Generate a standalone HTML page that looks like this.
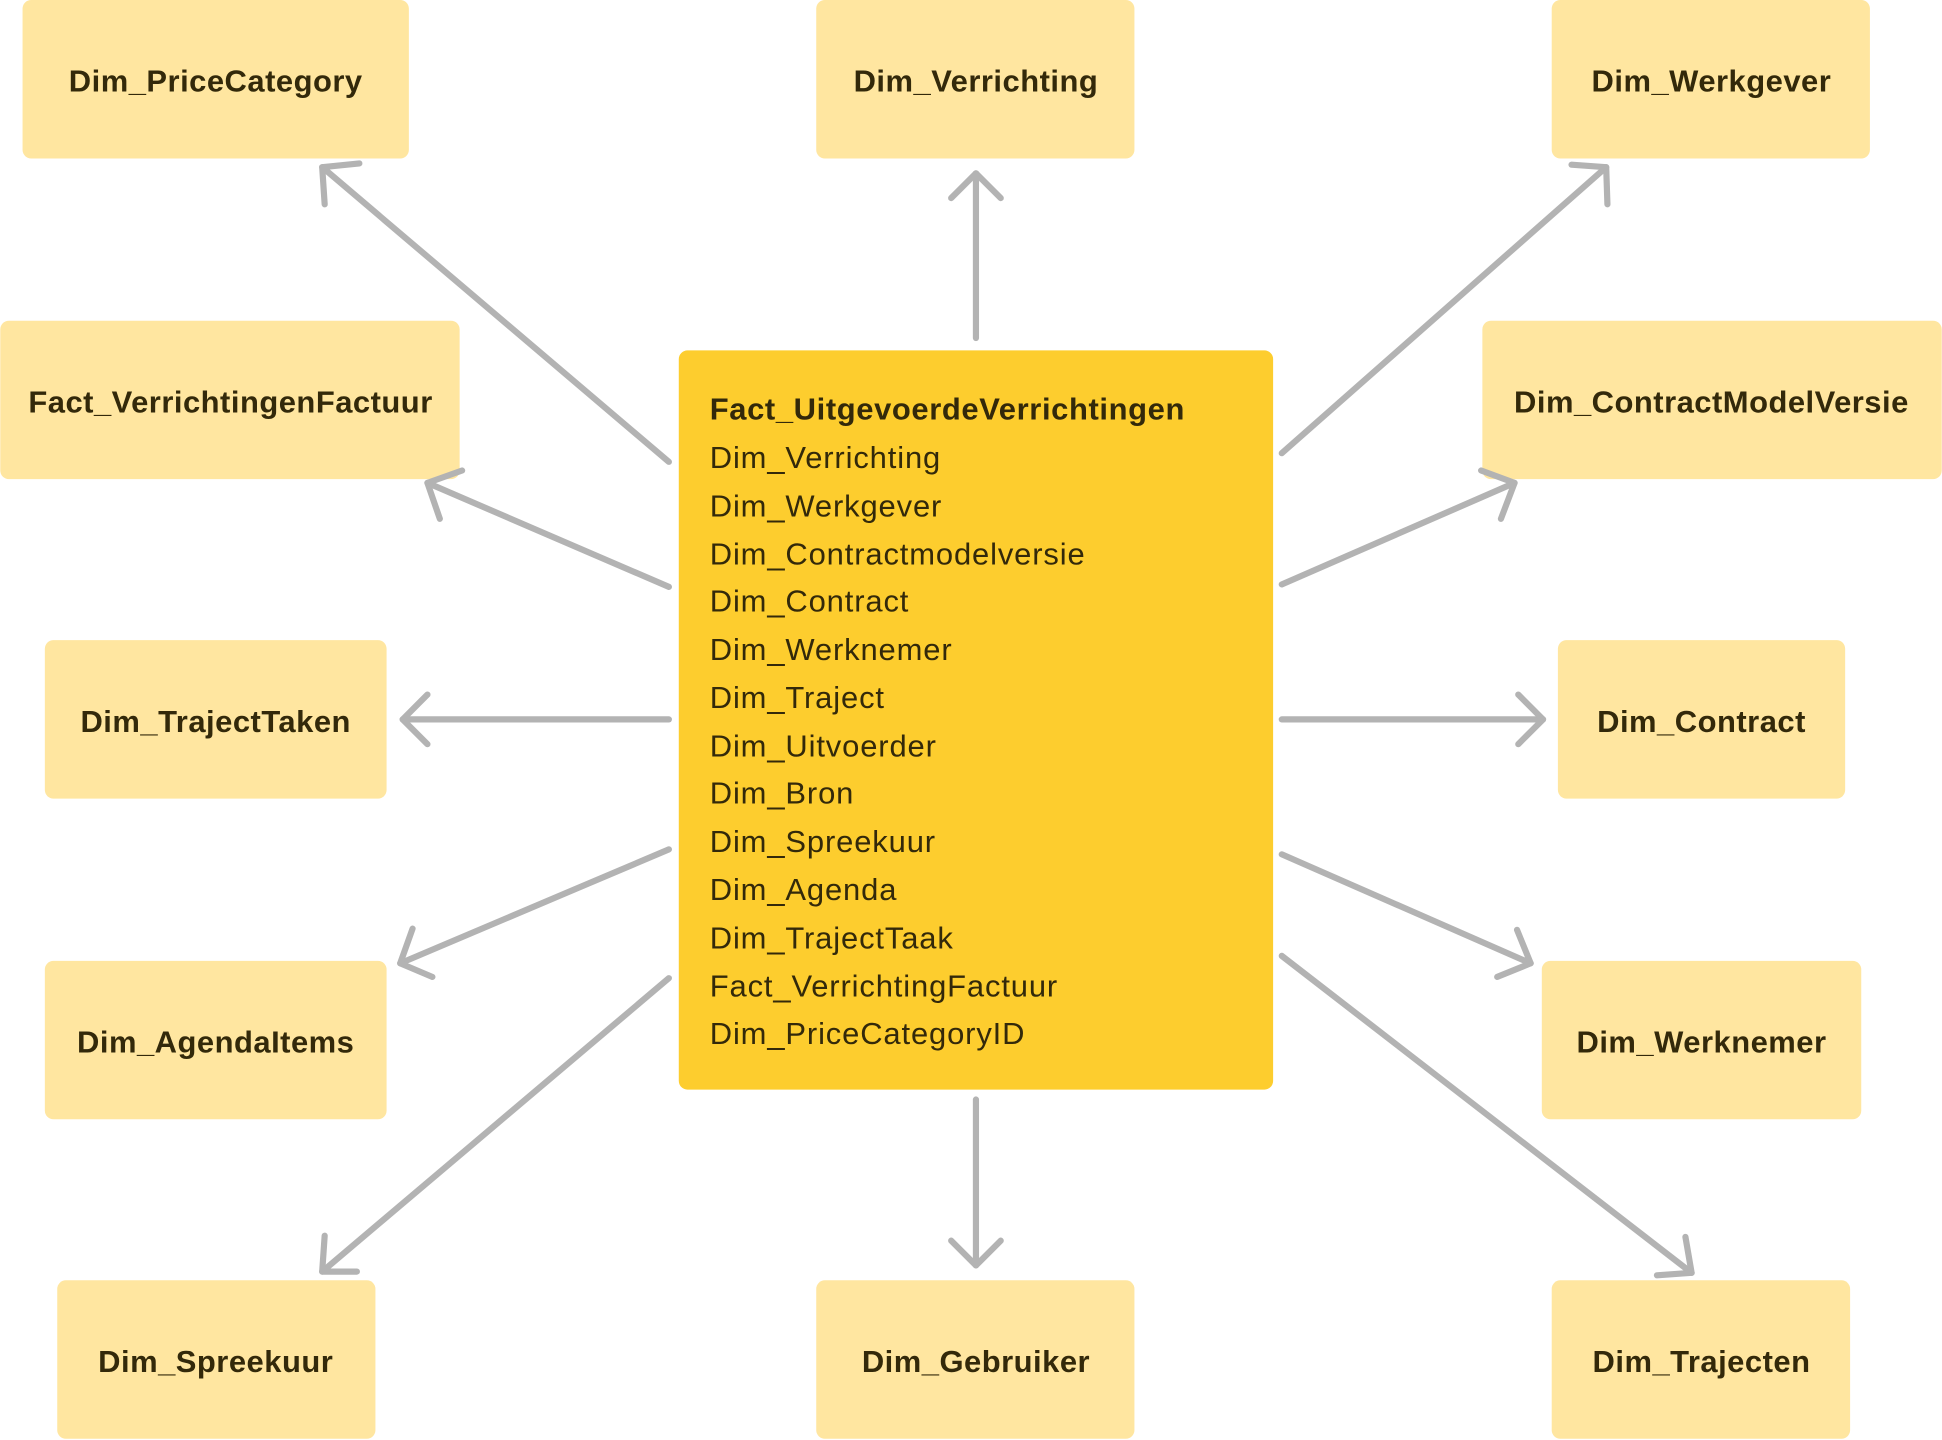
<!DOCTYPE html>
<html><head><meta charset="utf-8"><style>html,body{margin:0;padding:0;background:#fff}svg{display:block}</style></head>
<body>
<svg width="1942" height="1440" viewBox="0 0 1568 1163" xmlns="http://www.w3.org/2000/svg" font-family="Liberation Sans, sans-serif">
<g fill="#FFE6A0">
<rect x="18" y="0" width="312" height="128" rx="7"/>
<rect x="659" y="0" width="257" height="128" rx="7"/>
<rect x="1253" y="0" width="257" height="128" rx="7"/>
<rect x="0" y="259" width="371" height="128" rx="7"/>
<rect x="1197" y="259" width="371" height="128" rx="7"/>
<rect x="36" y="517" width="276" height="128" rx="7"/>
<rect x="1258" y="517" width="232" height="128" rx="7"/>
<rect x="36" y="776" width="276" height="128" rx="7"/>
<rect x="1245" y="776" width="258" height="128" rx="7"/>
<rect x="46" y="1034" width="257" height="128" rx="7"/>
<rect x="659" y="1034" width="257" height="128" rx="7"/>
<rect x="1253" y="1034" width="241" height="128" rx="7"/>
</g>
<rect x="548" y="283" width="480" height="597" rx="7" fill="#FDCD2E"/>
<g fill="#33290a" font-weight="bold" font-size="25" letter-spacing="0.4" text-anchor="middle">
<text x="174" y="74">Dim_PriceCategory</text>
<text x="788" y="74">Dim_Verrichting</text>
<text x="1382" y="74">Dim_Werkgever</text>
<text x="186" y="333">Fact_VerrichtingenFactuur</text>
<text x="1382" y="333">Dim_ContractModelVersie</text>
<text x="174" y="591">Dim_TrajectTaken</text>
<text x="1374" y="591">Dim_Contract</text>
<text x="174" y="850">Dim_AgendaItems</text>
<text x="1374" y="850">Dim_Werknemer</text>
<text x="174" y="1108">Dim_Spreekuur</text>
<text x="788" y="1108">Dim_Gebruiker</text>
<text x="1374" y="1108">Dim_Trajecten</text>
</g>
<g fill="#33290a" font-size="25" letter-spacing="0.7">
<text x="573" y="339" font-weight="bold" letter-spacing="0.5">Fact_UitgevoerdeVerrichtingen</text>
<text x="573" y="378">Dim_Verrichting</text>
<text x="573" y="417">Dim_Werkgever</text>
<text x="573" y="456">Dim_Contractmodelversie</text>
<text x="573" y="494">Dim_Contract</text>
<text x="573" y="533">Dim_Werknemer</text>
<text x="573" y="572">Dim_Traject</text>
<text x="573" y="611">Dim_Uitvoerder</text>
<text x="573" y="649">Dim_Bron</text>
<text x="573" y="688">Dim_Spreekuur</text>
<text x="573" y="727">Dim_Agenda</text>
<text x="573" y="766">Dim_TrajectTaak</text>
<text x="573" y="805">Fact_VerrichtingFactuur</text>
<text x="573" y="843">Dim_PriceCategoryID</text>
</g>
<g stroke="#b3b3b3" stroke-width="5" stroke-linecap="round" fill="none">
<line x1="540" y1="373" x2="260" y2="135"/>
<line x1="788" y1="273" x2="788" y2="140"/>
<line x1="1035" y1="366" x2="1297" y2="135"/>
<line x1="540" y1="474" x2="345" y2="390"/>
<line x1="1035" y1="472" x2="1223" y2="390"/>
<line x1="540" y1="581" x2="325" y2="581"/>
<line x1="1035" y1="581" x2="1246" y2="581"/>
<line x1="540" y1="686" x2="323" y2="778"/>
<line x1="1035" y1="690" x2="1236" y2="778"/>
<line x1="540" y1="790" x2="260" y2="1027"/>
<line x1="788" y1="888" x2="788" y2="1022"/>
<line x1="1035" y1="772" x2="1366" y2="1028"/>
</g>
<g stroke="#b3b3b3" stroke-width="5" stroke-linecap="round" stroke-linejoin="round" fill="none">
<path d="M262,165 L260,135 L290,132"/>
<path d="M768,160 L788,140 L808,160"/>
<path d="M1269,133 L1297,135 L1298,165"/>
<path d="M355,419 L345,390 L373,380"/>
<path d="M1196,380 L1223,390 L1212,419"/>
<path d="M345,561 L325,581 L345,601"/>
<path d="M1226,561 L1246,581 L1226,601"/>
<path d="M349,789 L323,778 L333,750"/>
<path d="M1225,751 L1236,778 L1209,789"/>
<path d="M288,1027 L260,1027 L262,998"/>
<path d="M768,1002 L788,1022 L808,1002"/>
<path d="M1338,1030 L1366,1028 L1361,999"/>
</g>
</svg>
</body></html>
